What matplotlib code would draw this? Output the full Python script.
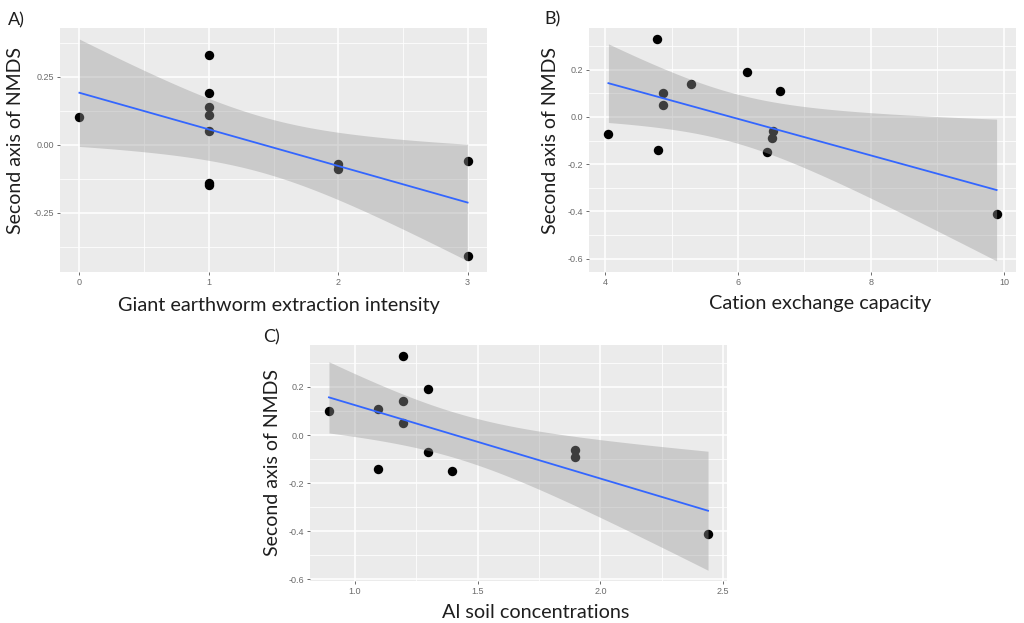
import numpy as np
import matplotlib
matplotlib.use("Agg")
import matplotlib.pyplot as plt
from matplotlib.ticker import FixedLocator

# ---------------- data ----------------
nmds2 = [0.10, 0.33, 0.19, 0.14, 0.11, 0.05, -0.14, -0.15, -0.07, -0.09, -0.06, -0.41]
extraction = [0, 1, 1, 1, 1, 1, 1, 1, 2, 2, 3, 3]

cec_x = [4.05, 4.78, 4.80, 4.87, 4.87, 5.29, 6.13, 6.63, 6.52, 6.51, 6.43, 9.89]
cec_y = [-0.07, 0.33, -0.14, 0.10, 0.05, 0.14, 0.19, 0.11, -0.06, -0.09, -0.15, -0.41]

al_x = [0.894, 1.095, 1.095, 1.197, 1.197, 1.197, 1.296, 1.296, 1.397, 1.898, 1.898, 2.439]
al_y = [0.10, 0.11, -0.14, 0.33, 0.14, 0.05, 0.19, -0.07, -0.15, -0.06, -0.09, -0.41]

xlabels = ["Giant earthworm extraction intensity", "Cation exchange capacity", "Al soil concentrations"]
panel_tags = ["A)", "B)", "C)"]
ylabel = "Second axis of NMDS"

A_xticks = [0, 1, 2, 3]
A_yticks = [-0.25, 0.0, 0.25]
A_yticklabels = ["-0.25", "0.00", "0.25"]
B_xticks = [4, 6, 8, 10]
B_yticks = [-0.6, -0.4, -0.2, 0.0, 0.2]
B_yticklabels = ["-0.6", "-0.4", "-0.2", "0.0", "0.2"]
C_xticks = [1.0, 1.5, 2.0, 2.5]
C_xticklabels = ["1.0", "1.5", "2.0", "2.5"]
C_yticks = [-0.6, -0.4, -0.2, 0.0, 0.2]
C_yticklabels = ["-0.6", "-0.4", "-0.2", "0.0", "0.2"]

T_975_DF10 = 2.228  # t quantile for 95% CI, n-2 = 10

W, H = 1024, 623
fig = plt.figure(figsize=(W / 100, H / 100), dpi=100)
fig.patch.set_facecolor("white")


def px_axes(x0, y0, x1, y1):
    return fig.add_axes([x0 / W, 1 - y1 / H, (x1 - x0) / W, (y1 - y0) / H])


def lm_band(x, y, n=100):
    x = np.asarray(x, float)
    y = np.asarray(y, float)
    b, a = np.polyfit(x, y, 1)
    xs = np.linspace(x.min(), x.max(), n)
    yhat = a + b * xs
    resid = y - (a + b * x)
    s = np.sqrt(np.sum(resid ** 2) / (len(x) - 2))
    sxx = np.sum((x - x.mean()) ** 2)
    se = s * np.sqrt(1 / len(x) + (xs - x.mean()) ** 2 / sxx)
    return xs, yhat, yhat - T_975_DF10 * se, yhat + T_975_DF10 * se


def panel(ax, x, y, xticks, xticklabels, yticks, yticklabels, xminor, yminor, xlabel, tag,
          tagpos, xlabpos, ylabpos):
    xs, yhat, lo, hi = lm_band(x, y)
    ax.set_facecolor("#EBEBEB")
    for sp in ax.spines.values():
        sp.set_visible(False)
    ax.scatter(x, y, s=46, color="black", zorder=3, linewidths=0)
    ax.fill_between(xs, lo, hi, color="#999999", alpha=0.4, linewidth=0, zorder=4)
    ax.plot(xs, yhat, color="#3366FF", lw=1.3, zorder=5)

    xmin, xmax = min(x), max(x)
    ymin, ymax = min(min(y), lo.min()), max(max(y), hi.max())
    dx, dy = (xmax - xmin) * 0.05, (ymax - ymin) * 0.05
    ax.set_xlim(xmin - dx, xmax + dx)
    ax.set_ylim(ymin - dy, ymax + dy)

    ax.xaxis.set_major_locator(FixedLocator(xticks))
    ax.set_xticklabels(xticklabels)
    ax.yaxis.set_major_locator(FixedLocator(yticks))
    ax.set_yticklabels(yticklabels)
    ax.xaxis.set_minor_locator(FixedLocator(xminor))
    ax.yaxis.set_minor_locator(FixedLocator(yminor))
    ax.grid(which="major", color="white", lw=1.1, zorder=0)
    ax.grid(which="minor", color="white", lw=0.55, zorder=0)
    ax.set_axisbelow(True)
    ax.tick_params(which="major", length=2.5, width=0.6, color="#555555", labelsize=6.5,
                   labelcolor="#6b6b6b", pad=2)
    ax.tick_params(which="minor", length=0)
    for lab in ax.get_xticklabels() + ax.get_yticklabels():
        lab.set_fontfamily("Liberation Sans")

    fig.text(xlabpos[0] / W, 1 - xlabpos[1] / H, xlabel, ha="center", va="center",
             fontsize=14.3, family="Lato", color="#1e1e1e")
    fig.text(ylabpos[0] / W, 1 - ylabpos[1] / H, ylabel, ha="center", va="center",
             rotation=90, fontsize=14, family="Lato", color="#1e1e1e")
    fig.text(tagpos[0] / W, 1 - tagpos[1] / H, tag, ha="left", va="center",
             fontsize=13, family="Lato", color="#1e1e1e")


axA = px_axes(60, 28, 487, 272)
panel(axA, extraction, nmds2, A_xticks, [str(v) for v in A_xticks], A_yticks, A_yticklabels,
      [0.5, 1.5, 2.5], [-0.375, -0.125, 0.125, 0.375], xlabels[0], panel_tags[0],
      (8, 20), (279, 306), (16, 141))

axB = px_axes(589, 28, 1016, 272)
panel(axB, cec_x, cec_y, B_xticks, [str(v) for v in B_xticks], B_yticks, B_yticklabels,
      [5, 7, 9], [-0.5, -0.3, -0.1, 0.1, 0.3], xlabels[1], panel_tags[1],
      (544, 19), (820, 303), (551, 141))

axC = px_axes(310, 345, 727, 581)
panel(axC, al_x, al_y, C_xticks, C_xticklabels, C_yticks, C_yticklabels,
      [1.25, 1.75, 2.25], [-0.5, -0.3, -0.1, 0.1, 0.3], xlabels[2], panel_tags[2],
      (263, 337), (536, 612), (273, 463))

fig.savefig("out.png", dpi=100, facecolor="white")
